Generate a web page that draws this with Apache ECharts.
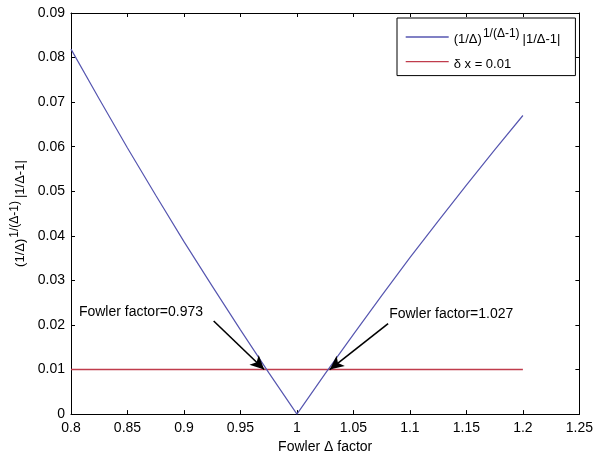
<!DOCTYPE html>
<html>
<head>
<meta charset="utf-8">
<script src="https://cdn.jsdelivr.net/npm/echarts@6/dist/echarts.min.js"></script>
<style>
  html, body { margin: 0; padding: 0; background: #fff; }
  #chart { width: 596px; height: 459px; }
</style>
</head>
<body>
<div id="chart"></div>
<script>
// Fowler Δ factor samples and the curve (1/Δ)^(1/(Δ-1))·|1/Δ-1|
const deltaValues = [0.8, 0.825, 0.85, 0.875, 0.9, 0.925, 0.95, 0.975, 1.0,
                     1.025, 1.05, 1.075, 1.1, 1.125, 1.15, 1.175, 1.2];
const curveValues = [0.0819, 0.0707, 0.0597, 0.0491, 0.0387, 0.0287, 0.0189, 0.0093, 0.0,
                     0.0091, 0.0179, 0.0266, 0.0351, 0.0433, 0.0514, 0.0593, 0.0670];

// Horizontal tolerance line δx = 0.01
const thresholdX = [0.8, 1.2];
const thresholdLevel = 0.01;

// Crossing annotations
const crossingLabels = ['Fowler factor=0.973', 'Fowler factor=1.027'];
const crossingPoints = [0.973, 1.027];

const FONT = '"Liberation Sans", Arial, Helvetica, sans-serif';
const curveName = 'curve';
const lineName = 'threshold';
const BLUE = '#5656b0';
const RED = '#c03c4c';

const curveData = deltaValues.map((d, i) => [d, curveValues[i]]);
const thresholdData = thresholdX.map(d => [d, thresholdLevel]);

const chart = echarts.init(document.getElementById('chart'), null, { renderer: 'canvas' });

const richFormula = (size, supSize, lh) => ({
  a: { fontSize: size, fontFamily: FONT, color: '#000', lineHeight: lh, verticalAlign: 'bottom' },
  s: { fontSize: supSize, fontFamily: FONT, color: '#000', lineHeight: lh, verticalAlign: 'top',
       padding: [0, 3, 0, 1] }
});
const formulaText = '{a|(1/Δ)}{s|1/(Δ-1)}{a||1/Δ-1|}';

const axisCommon = {
  type: 'value',
  axisLine: { show: true, onZero: false, lineStyle: { color: '#000', width: 1 } },
  axisTick: { show: true, inside: true, length: 4, lineStyle: { color: '#000' } },
  splitLine: { show: false }
};

chart.setOption({
  animation: false,
  backgroundColor: '#fff',
  color: [BLUE, RED, '#000'],
  grid: { left: 71, right: 12, top: 13, bottom: 42 },
  xAxis: [
    Object.assign({}, axisCommon, {
      min: 0.8, max: 1.25, interval: 0.05, position: 'bottom',
      axisLabel: { color: '#000', fontSize: 14, fontFamily: FONT, margin: 7 },
      name: 'Fowler Δ factor', nameLocation: 'middle', nameGap: 25,
      nameTextStyle: { color: '#000', fontSize: 14, fontFamily: FONT }
    }),
    Object.assign({}, axisCommon, {
      min: 0.8, max: 1.25, interval: 0.05, position: 'top',
      axisLabel: { show: false }
    })
  ],
  yAxis: [
    Object.assign({}, axisCommon, {
      min: 0, max: 0.09, interval: 0.01, position: 'left',
      axisLabel: { color: '#000', fontSize: 14, fontFamily: FONT, margin: 6 },
      name: formulaText, nameLocation: 'middle', nameGap: 40,
      nameTextStyle: { rich: richFormula(13, 12, 18) }
    }),
    Object.assign({}, axisCommon, {
      min: 0, max: 0.09, interval: 0.01, position: 'right',
      axisLabel: { show: false }
    })
  ],
  legend: {
    orient: 'vertical',
    left: 397, top: 18,
    padding: [10, 15, 5, 8],
    itemGap: 10,
    itemWidth: 43, itemHeight: 14,
    backgroundColor: '#fff',
    borderColor: '#000', borderWidth: 1,
    itemStyle: { opacity: 0 },
    lineStyle: { width: 1.4 },
    data: [curveName, lineName],
    formatter: n => n === curveName ? formulaText : '{a|δ x = 0.01}',
    textStyle: { rich: richFormula(13, 12, 18) }
  },
  series: [
    {
      name: curveName, type: 'line', data: curveData,
      symbol: 'none',
      color: BLUE,
      lineStyle: { color: BLUE, width: 1.2 },
      z: 3
    },
    {
      name: lineName, type: 'line', data: thresholdData,
      symbol: 'none',
      color: RED,
      lineStyle: { color: RED, width: 1.6 },
      z: 2
    },
    {
      // annotation arrows and their captions
      name: 'notes', type: 'line', data: [],
      symbol: 'none',
      z: 4,
      markLine: {
        silent: true,
        symbol: ['none', 'arrow'],
        symbolSize: [10, 14],
        lineStyle: { color: '#000', width: 1.6, type: 'solid' },
        itemStyle: { color: '#000' },
        label: { show: false },
        data: [
          [{ coord: [0.9263, 0.0209] }, { coord: [crossingPoints[0] - 0.002, thresholdLevel] }],
          [{ coord: [1.0807, 0.0203] }, { coord: [crossingPoints[1] + 0.002, thresholdLevel] }]
        ]
      },
      markPoint: {
        silent: true,
        symbol: 'circle', symbolSize: 0,
        label: {
          show: true, position: 'right', distance: 0,
          color: '#000', fontSize: 14, fontFamily: FONT,
          formatter: p => p.name
        },
        data: [
          { name: crossingLabels[0], coord: [0.807, 0.0229] },
          { name: crossingLabels[1], coord: [1.0816, 0.0225] }
        ]
      }
    }
  ]
});
</script>
</body>
</html>
